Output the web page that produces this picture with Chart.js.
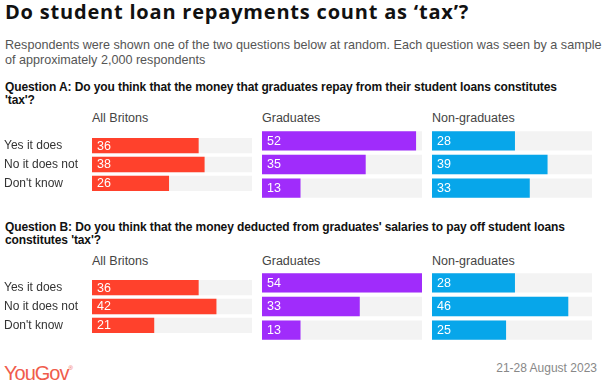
<!DOCTYPE html>
<html>
<head>
<meta charset="utf-8">
<script src="https://cdn.jsdelivr.net/npm/chart.js@4/dist/chart.umd.min.js"></script>
<style>
  body { margin: 0; width: 602px; height: 380px; background: #fff; position: relative; overflow: hidden; }
  .t { position: absolute; white-space: nowrap; }
  #title { left: 5px; top: 0px; font-family: "Open Sans", sans-serif; font-weight: 700; font-size: 20px; line-height: 24px; color: #111; letter-spacing: 0.8px; }
  #sub { left: 5px; top: 38px; font: 12.6px/14.5px "Liberation Sans", Arial, sans-serif; color: #555; }
  .q { left: 5px; font-family: "Liberation Sans", Arial, sans-serif; font-weight: 700; font-size: 12px; line-height: 12.6px; color: #111; letter-spacing: -0.1px; }
  .h { font: 12.5px/14px "Liberation Sans", Arial, sans-serif; color: #444; }
  #logo { left: 4px; top: 358px; font: 20px/20px "Liberation Sans", Arial, sans-serif; color: #f05c4c; letter-spacing: -1px; }
  #logo sup { font-size: 6px; letter-spacing: 0; vertical-align: 10px; }
  #date { right: 5px; top: 361px; font: 12px/14px "Liberation Sans", Arial, sans-serif; color: #888; }
  canvas { position: absolute; }
</style>
</head>
<body>
<div class="t" id="title">Do student loan repayments count as ‘tax’?</div>
<div class="t" id="sub">Respondents were shown one of the two questions below at random. Each question was seen by a sample<br>of approximately 2,000 respondents</div>
<div class="t q" style="top:81px">Question A: Do you think that the money that graduates repay from their student loans constitutes<br>'tax'?</div>
<div class="t q" style="top:221px">Question B: Do you think that the money deducted from graduates' salaries to pay off student loans<br>constitutes 'tax'?</div>
<div class="t" id="logo">YouGov<sup>®</sup></div>
<div class="t" id="date">21-28 August 2023</div>

<script>
// answers and groups
const answers = ['Yes it does', 'No it does not', "Don't know"];
const groups = ['All Britons', 'Graduates', 'Non-graduates'];

// Question A (%)
const qaAll = [36, 38, 26];
const qaGrad = [52, 35, 13];
const qaNonGrad = [28, 39, 33];

// Question B (%)
const qbAll = [36, 42, 21];
const qbGrad = [54, 33, 13];
const qbNonGrad = [28, 46, 25];

// shared axis max and grey track behind each bar
const scaleMax = 54;
const track = [54, 54, 54];

const groupColors = ['#ff412c', '#a02cfb', '#07a6ea'];
const colLeft = [92, 262, 432];
const colWidth = 160;

// white value labels at the start of each bar
const valueLabels = {
    id: 'valueLabels',
    afterDatasetsDraw(chart) {
        const ctx = chart.ctx;
        const meta = chart.getDatasetMeta(0);
        const data = chart.data.datasets[0].data;
        ctx.save();
        ctx.fillStyle = '#fff';
        ctx.font = '12.5px "Liberation Sans", Arial, sans-serif';
        ctx.textAlign = 'left';
        ctx.textBaseline = 'middle';
        meta.data.forEach((bar, i) => {
            ctx.fillText(String(data[i]), bar.base + 5, bar.y + 0.5);
        });
        ctx.restore();
    }
};

function addHeader(text, left, top) {
    const d = document.createElement('div');
    d.className = 't h';
    d.style.left = left + 'px';
    d.style.top = top + 'px';
    d.textContent = text;
    document.body.appendChild(d);
}

function makeChart(values, col, top) {
    const first = col === 0;
    const canvas = document.createElement('canvas');
    const left = first ? 0 : colLeft[col];
    const width = first ? colLeft[0] + colWidth : colWidth;
    const height = 71;
    canvas.width = width;
    canvas.height = height;
    canvas.style.left = left + 'px';
    canvas.style.top = top + 'px';
    canvas.style.width = width + 'px';
    canvas.style.height = height + 'px';
    document.body.appendChild(canvas);

    const yScale = {
        display: first,
        grid: { display: false, drawTicks: false },
        border: { display: false },
        ticks: {
            crossAlign: 'far',
            padding: 0,
            color: '#333',
            font: { family: '"Liberation Sans", Arial, sans-serif', size: 12 }
        }
    };
    if (first) yScale.afterFit = axis => { axis.width = colLeft[0] - 4; };

    new Chart(canvas.getContext('2d'), {
        type: 'bar',
        data: {
            labels: answers,
            datasets: [
                {
                    data: values,
                    backgroundColor: groupColors[col],
                    barPercentage: 0.82,
                    categoryPercentage: 1,
                    grouped: false
                },
                {
                    data: track,
                    backgroundColor: '#f3f3f3',
                    barPercentage: 0.82,
                    categoryPercentage: 1,
                    grouped: false
                }
            ]
        },
        options: {
            indexAxis: 'y',
            responsive: false,
            animation: false,
            events: [],
            layout: { padding: { left: first ? 4 : 0, right: 0, top: 0, bottom: 0 } },
            plugins: { legend: { display: false }, tooltip: { enabled: false } },
            scales: {
                x: { display: false, min: 0, max: scaleMax },
                y: yScale
            }
        },
        plugins: [valueLabels]
    });
}

const sections = [
    { top: 129, headerTop: 111, series: [qaAll, qaGrad, qaNonGrad] },
    { top: 271, headerTop: 254, series: [qbAll, qbGrad, qbNonGrad] }
];

sections.forEach(sec => {
    sec.series.forEach((vals, col) => {
        addHeader(groups[col], colLeft[col], sec.headerTop);
        makeChart(vals, col, sec.top);
    });
});
</script>
</body>
</html>
